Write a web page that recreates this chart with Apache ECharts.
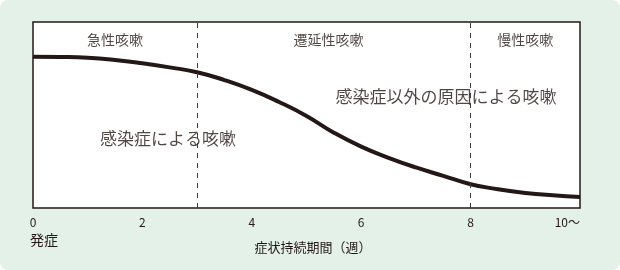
<!DOCTYPE html>
<html><head><meta charset="utf-8">
<script src="https://cdn.jsdelivr.net/npm/echarts@6/dist/echarts.min.js"></script>
<style>
html,body{margin:0;padding:0;background:#fff;}
#c{width:620px;height:270px;background:#e4f1e8;border-radius:8px;overflow:hidden;}
</style></head>
<body><div id="c"></div>
<script>
const weeks = [0, 0.5, 1, 1.5, 2, 2.5, 3, 3.5, 4, 4.5, 5, 5.5, 6, 6.5, 7, 7.5, 8, 8.5, 9, 9.5, 10];
const coughLevel = [81.3, 81.2, 80.8, 79.6, 77.8, 75.6, 73, 68.8, 63.5, 57, 49.5, 40.5, 33, 27, 21.8, 17.3, 12.8, 10.1, 8.1, 6.8, 5.9];
const tickLabels = {0:'0',2:'2',4:'4',6:'6',8:'8',10:'10～'};
const phaseBoundaries = [3, 8];
const phaseNames = ['急性咳嗽', '遷延性咳嗽', '慢性咳嗽'];
const phaseCenters = [1.5, 5.4, 9];
const causeLabels = ['感染症による咳嗽', '感染症以外の原因による咳嗽'];

const FONT = '"Noto Sans CJK JP", sans-serif';
const INK = '#231815';
const chart = echarts.init(document.getElementById('c'), null, {renderer:'canvas'});

const option = {
  backgroundColor: 'transparent',
  animation: false,
  grid: {left: 33, right: 40, top: 22, bottom: 62, show: true, backgroundColor: '#fff', borderColor: INK, borderWidth: 1.5},
  xAxis: {
    type: 'value', min: 0, max: 10, interval: 2,
    axisLine: {show: false}, axisTick: {show: false}, splitLine: {show: false},
    axisLabel: {margin: 8, fontSize: 12, color: INK, fontFamily: FONT,
      formatter: v => tickLabels[v] ?? '', alignMaxLabel: 'right'},
    name: '症状持続期間（週）', nameLocation: 'middle', nameGap: 33,
    nameTextStyle: {fontSize: 13, color: INK, fontFamily: FONT, padding: [0, 0, 0, 13]}
  },
  yAxis: {type: 'value', min: 0, max: 100, show: false},
  series: [
    {
      type: 'line', smooth: 0.5, symbol: 'none',
      data: weeks.map((w, i) => [w, coughLevel[i]]),
      lineStyle: {color: INK, width: 4},
      z: 3,
      markLine: {
        silent: true, symbol: 'none', label: {show: false},
        lineStyle: {color: '#3a3a3a', width: 1, type: [5, 5]},
        data: phaseBoundaries.map(b => ({xAxis: b}))
      }
    },
    {
      type: 'scatter', symbolSize: 0, silent: true,
      data: phaseNames.map((n, i) => ({value: [phaseCenters[i], 90.5], name: n})),
      label: {show: true, position: 'inside', formatter: p => p.name, fontSize: 14, color: INK, fontFamily: FONT}
    },
    {
      type: 'scatter', symbolSize: 0, silent: true,
      data: [
        {value: [2.47, 37.5], name: causeLabels[0]},
        {value: [7.55, 60], name: causeLabels[1]}
      ],
      label: {show: true, position: 'inside', formatter: p => p.name, fontSize: 17, color: INK, fontFamily: FONT}
    }
  ],
  graphic: [
    {type: 'text', left: 30, top: 233, style: {text: '発症', fontSize: 14, fill: INK, fontFamily: FONT}}
  ]
};
chart.setOption(option);
</script></body></html>
